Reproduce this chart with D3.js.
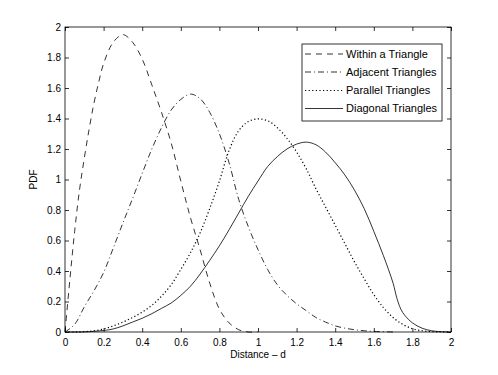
<!DOCTYPE html>
<html>
<head>
<meta charset="utf-8">
<script src="https://cdn.jsdelivr.net/npm/d3@7"></script>
<style>
  html, body { margin: 0; padding: 0; background: #fff; }
  svg { display: block; font-family: "Liberation Sans", Arial, Helvetica, sans-serif; }
</style>
</head>
<body>
<svg id="chart" width="498" height="375"></svg>
<script>
// ---- data ----
const seriesNames = ["Within a Triangle", "Adjacent Triangles", "Parallel Triangles", "Diagonal Triangles"];

const withinX = [0, 0.025, 0.05, 0.075, 0.1, 0.125, 0.15, 0.175, 0.2, 0.25, 0.3, 0.35, 0.4, 0.45, 0.5, 0.55, 0.6, 0.65, 0.7, 0.75, 0.8, 0.85, 0.9, 0.95, 1.0];
const withinY = [0, 0.34, 0.66, 0.93, 1.14, 1.33, 1.50, 1.64, 1.76, 1.90, 1.95, 1.90, 1.79, 1.62, 1.44, 1.24, 0.99, 0.75, 0.54, 0.32, 0.15, 0.06, 0.015, 0, 0];

const adjacentX = [0, 0.05, 0.1, 0.15, 0.2, 0.25, 0.3, 0.35, 0.4, 0.45, 0.5, 0.55, 0.6, 0.65, 0.7, 0.75, 0.8, 0.85, 0.9, 0.95, 1.0, 1.05, 1.1, 1.15, 1.2, 1.25, 1.3, 1.35, 1.4, 1.45, 1.5, 1.55, 1.6, 1.7];
const adjacentY = [0, 0.05, 0.165, 0.27, 0.39, 0.55, 0.715, 0.875, 1.04, 1.20, 1.34, 1.455, 1.525, 1.56, 1.53, 1.44, 1.30, 1.11, 0.87, 0.69, 0.54, 0.41, 0.31, 0.24, 0.185, 0.14, 0.095, 0.065, 0.04, 0.025, 0.015, 0.008, 0.004, 0];

const parallelX = [0, 0.05, 0.1, 0.15, 0.2, 0.25, 0.3, 0.35, 0.4, 0.45, 0.5, 0.55, 0.6, 0.65, 0.7, 0.75, 0.8, 0.85, 0.9, 0.95, 1.0, 1.05, 1.1, 1.15, 1.2, 1.25, 1.3, 1.35, 1.4, 1.45, 1.5, 1.55, 1.6, 1.65, 1.7, 1.75, 1.8, 1.85, 1.9, 1.95, 2.0];
const parallelY = [0, 0, 0.002, 0.008, 0.02, 0.04, 0.065, 0.095, 0.13, 0.175, 0.235, 0.31, 0.41, 0.52, 0.65, 0.81, 0.99, 1.19, 1.32, 1.38, 1.397, 1.385, 1.34, 1.27, 1.18, 1.07, 0.94, 0.82, 0.70, 0.58, 0.46, 0.35, 0.245, 0.16, 0.095, 0.05, 0.022, 0.008, 0.002, 0, 0];

const diagonalX = [0, 0.1, 0.2, 0.25, 0.3, 0.35, 0.4, 0.45, 0.5, 0.55, 0.6, 0.65, 0.7, 0.75, 0.8, 0.85, 0.9, 0.95, 1.0, 1.05, 1.1, 1.15, 1.2, 1.25, 1.3, 1.35, 1.4, 1.45, 1.5, 1.55, 1.6, 1.65, 1.7, 1.72, 1.74, 1.76, 1.8, 1.85, 1.9, 1.95, 2.0];
const diagonalY = [0, 0.001, 0.01, 0.02, 0.04, 0.065, 0.09, 0.12, 0.155, 0.19, 0.24, 0.30, 0.38, 0.47, 0.565, 0.67, 0.78, 0.89, 0.99, 1.085, 1.15, 1.20, 1.232, 1.245, 1.228, 1.18, 1.11, 1.03, 0.93, 0.81, 0.66, 0.50, 0.32, 0.22, 0.15, 0.11, 0.06, 0.025, 0.008, 0.002, 0];

const xTicks = [0, 0.2, 0.4, 0.6, 0.8, 1, 1.2, 1.4, 1.6, 1.8, 2];
const yTicks = [0, 0.2, 0.4, 0.6, 0.8, 1, 1.2, 1.4, 1.6, 1.8, 2];

// ---- styles ----
const dashes = ["6,5", "6,3,1,3", "1.2,2.4", null];

const svg = d3.select("#chart");
const L = 65, R = 451, T = 27, B = 332;

const x = d3.scaleLinear().domain([0, 2]).range([L, R]);
const y = d3.scaleLinear().domain([0, 2]).range([B, T]);

const fmt = d => String(d);

// axes
const gx = svg.append("g").attr("transform", `translate(0,${B})`)
  .call(d3.axisBottom(x).tickValues(xTicks).tickFormat(fmt).tickSizeInner(-4).tickSizeOuter(0).tickPadding(7));
const gxTop = svg.append("g").attr("transform", `translate(0,${T})`)
  .call(d3.axisTop(x).tickValues(xTicks).tickFormat("").tickSizeInner(-4).tickSizeOuter(0));
const gy = svg.append("g").attr("transform", `translate(${L},0)`)
  .call(d3.axisLeft(y).tickValues(yTicks).tickFormat(fmt).tickSizeInner(-4).tickSizeOuter(0).tickPadding(4));
const gyR = svg.append("g").attr("transform", `translate(${R},0)`)
  .call(d3.axisRight(y).tickValues(yTicks).tickFormat("").tickSizeInner(-4).tickSizeOuter(0));

[gx, gxTop, gy, gyR].forEach(g => {
  g.select(".domain").remove();
  g.selectAll(".tick line").attr("stroke", "#000").attr("stroke-width", 0.8);
  g.selectAll("text").attr("fill", "#000").attr("font-size", 10)
    .attr("font-family", "'Liberation Sans', Arial, Helvetica, sans-serif");
});

// frame
svg.append("rect").attr("x", L).attr("y", T).attr("width", R - L).attr("height", B - T)
  .attr("fill", "none").attr("stroke", "#000").attr("stroke-width", 0.8);

// curves
const allX = [withinX, adjacentX, parallelX, diagonalX];
const allY = [withinY, adjacentY, parallelY, diagonalY];
const line = d3.line().x(d => x(d[0])).y(d => Math.min(y(d[1]), B)).curve(d3.curveCatmullRom.alpha(0.5));

allX.forEach((xs, i) => {
  const pts = xs.map((v, j) => [v, allY[i][j]]);
  svg.append("path").datum(pts)
    .attr("d", line)
    .attr("fill", "none")
    .attr("stroke", "#000")
    .attr("stroke-width", i === 2 ? 1.2 : 0.8)
    .attr("stroke-dasharray", dashes[i]);
});

// labels
svg.append("text").attr("x", (L + R) / 2).attr("y", 358).attr("text-anchor", "middle")
  .attr("font-size", 10).text("Distance – d");
svg.append("text").attr("transform", `translate(37,${(T + B) / 2}) rotate(-90)`)
  .attr("text-anchor", "middle").attr("font-size", 10).text("PDF");

// legend
const lg = svg.append("g");
lg.append("rect").attr("x", 302).attr("y", 44).attr("width", 140).attr("height", 77)
  .attr("fill", "#fff").attr("stroke", "#000").attr("stroke-width", 0.8);
const legY = [54, 72, 90.5, 108.5];
seriesNames.forEach((name, i) => {
  lg.append("line").attr("x1", 305).attr("x2", 343).attr("y1", legY[i]).attr("y2", legY[i])
    .attr("stroke", "#000").attr("stroke-width", i === 2 ? 1.2 : 0.8)
    .attr("stroke-dasharray", dashes[i]);
  lg.append("text").attr("x", 346).attr("y", legY[i]).attr("dy", "0.35em")
    .attr("font-size", 11).text(name);
});
</script>
</body>
</html>
